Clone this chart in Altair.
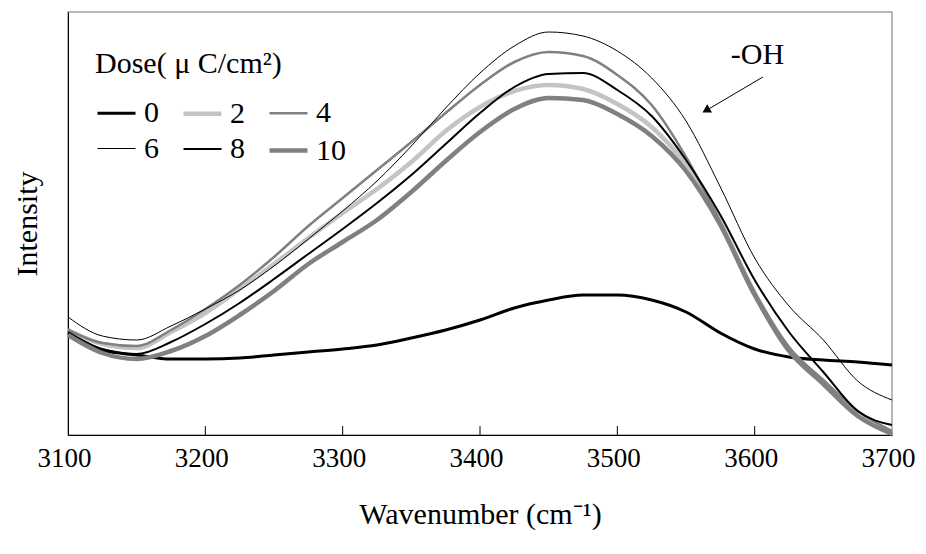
import altair as alt
import pandas as pd

wavenumber = list(range(3100, 3701, 25))
doses = ["0", "2", "4", "6", "8", "10"]

dose_0 = [102, 85, 80, 76, 76, 77, 80, 83, 86, 90, 97, 105, 115, 127, 135, 140, 140, 135, 123, 102, 86, 78, 75, 73, 70]
dose_2 = [105, 91, 87, 103, 122, 146, 171, 197, 222, 246, 273, 304, 328, 344, 350, 346, 331, 308, 270, 213, 142, 86, 53, 22, 3]
dose_4 = [105, 92, 89, 105, 126, 150, 178, 209, 237, 265, 293, 322, 350, 373, 383, 379, 360, 330, 278, 213, 143, 88, 55, 24, 4]
dose_6 = [118, 99, 95, 109, 126, 145, 169, 196, 224, 254, 289, 327, 362, 389, 403, 399, 384, 357, 314, 248, 177, 129, 95, 54, 35]
dose_8 = [103, 86, 81, 93, 111, 132, 156, 181, 206, 232, 260, 291, 322, 348, 361, 362, 345, 319, 275, 220, 155, 103, 63, 24, 10]
dose_10 = [100, 82, 76, 84, 99, 120, 144, 171, 193, 215, 243, 274, 303, 326, 337, 335, 321, 299, 264, 210, 140, 84, 51, 19, 1]

series = {"0": dose_0, "2": dose_2, "4": dose_4, "6": dose_6, "8": dose_8, "10": dose_10}
colors = ["#000000", "#c4c4c4", "#808080", "#000000", "#000000", "#808080"]
widths = [3, 4.5, 2.5, 1, 2, 4.5]

x_ticks = [3100, 3200, 3300, 3400, 3500, 3600, 3700]
inner_ticks = [3200, 3300, 3400, 3500, 3600]

rows = []
for d in doses:
    for w, v in zip(wavenumber, series[d]):
        rows.append({"wavenumber": w, "intensity": v, "dose": d})
df = pd.DataFrame(rows)

FONT = "Liberation Serif"

xscale = alt.Scale(domain=[3100, 3700], nice=False, zero=False)
yscale = alt.Scale(domain=[0, 423], nice=False, zero=False)

legend = alt.Legend(
    title="Dose( μ C/cm²)", orient="none", legendX=27, legendY=37, columns=3,
    direction="horizontal", titleLimit=500, labelLimit=200,
    symbolType="stroke", symbolSize=1444, labelFontSize=30, titleFontSize=30,
    titleFontWeight="normal", titleFont=FONT, labelFont=FONT, titlePadding=13,
    rowPadding=-11, columnPadding=15, labelOffset=6, padding=0,
    titleColor="black", labelColor="black",
)

lines = alt.Chart(df).mark_line(interpolate="monotone").encode(
    x=alt.X("wavenumber:Q", scale=xscale, axis=alt.Axis(
        values=x_ticks, title="Wavenumber (cm⁻¹)", format="d", tickSize=0,
        labelFontSize=27, labelFont=FONT, labelPadding=10, labelColor="black", domainColor="black",
        labelOffset=-4,
        titleFontSize=30, titleFont=FONT, titleFontWeight="normal", titlePadding=28, titleColor="black",
        grid=False, labelFlush=False)),
    y=alt.Y("intensity:Q", scale=yscale, axis=alt.Axis(
        labels=False, ticks=False, grid=False, title="Intensity", domainColor="black",
        titleFontSize=30, titleFont=FONT, titleFontWeight="normal", titlePadding=26, titleColor="black")),
    color=alt.Color("dose:N", sort=doses, scale=alt.Scale(domain=doses, range=colors), legend=legend),
    strokeWidth=alt.StrokeWidth("dose:N", sort=doses,
                                scale=alt.Scale(type="ordinal", domain=doses, range=widths), legend=legend),
    detail="dose:N",
)

ticks = alt.Chart(pd.DataFrame({"t": inner_ticks})).mark_rule(color="black", strokeWidth=1).encode(
    x=alt.X("t:Q", scale=xscale), y=alt.value(423), y2=alt.value(414)
)

annot = pd.DataFrame({"x": [3602], "y": [380], "text": ["-OH"]})
label = alt.Chart(annot).mark_text(fontSize=30, font=FONT, color="black").encode(
    x=alt.X("x:Q", scale=xscale), y=alt.Y("y:Q", scale=yscale), text="text:N"
)

arrow_df = pd.DataFrame({"x": [3606], "y": [358], "x2": [3564], "y2": [324]})
arrow_line = alt.Chart(arrow_df).mark_rule(color="black", strokeWidth=1).encode(
    x=alt.X("x:Q", scale=xscale), y=alt.Y("y:Q", scale=yscale), x2="x2:Q", y2="y2:Q"
)
head = alt.Chart(pd.DataFrame({"x": [3564.6], "y": [324.5]})).mark_point(
    shape="triangle-up", filled=True, color="black", size=90, angle=240, opacity=1
).encode(x=alt.X("x:Q", scale=xscale), y=alt.Y("y:Q", scale=yscale))

chart = alt.layer(lines, ticks, arrow_line, head, label).properties(
    width=824, height=423,
    autosize=alt.AutoSizeParams(type="none"),
    padding={"left": 60, "top": 4, "right": 26, "bottom": 111},
).configure(font=FONT).configure_view(stroke="#a0a0a0", strokeWidth=1.5)

chart.save("out.html", embed_options={"renderer": "svg", "actions": False})
